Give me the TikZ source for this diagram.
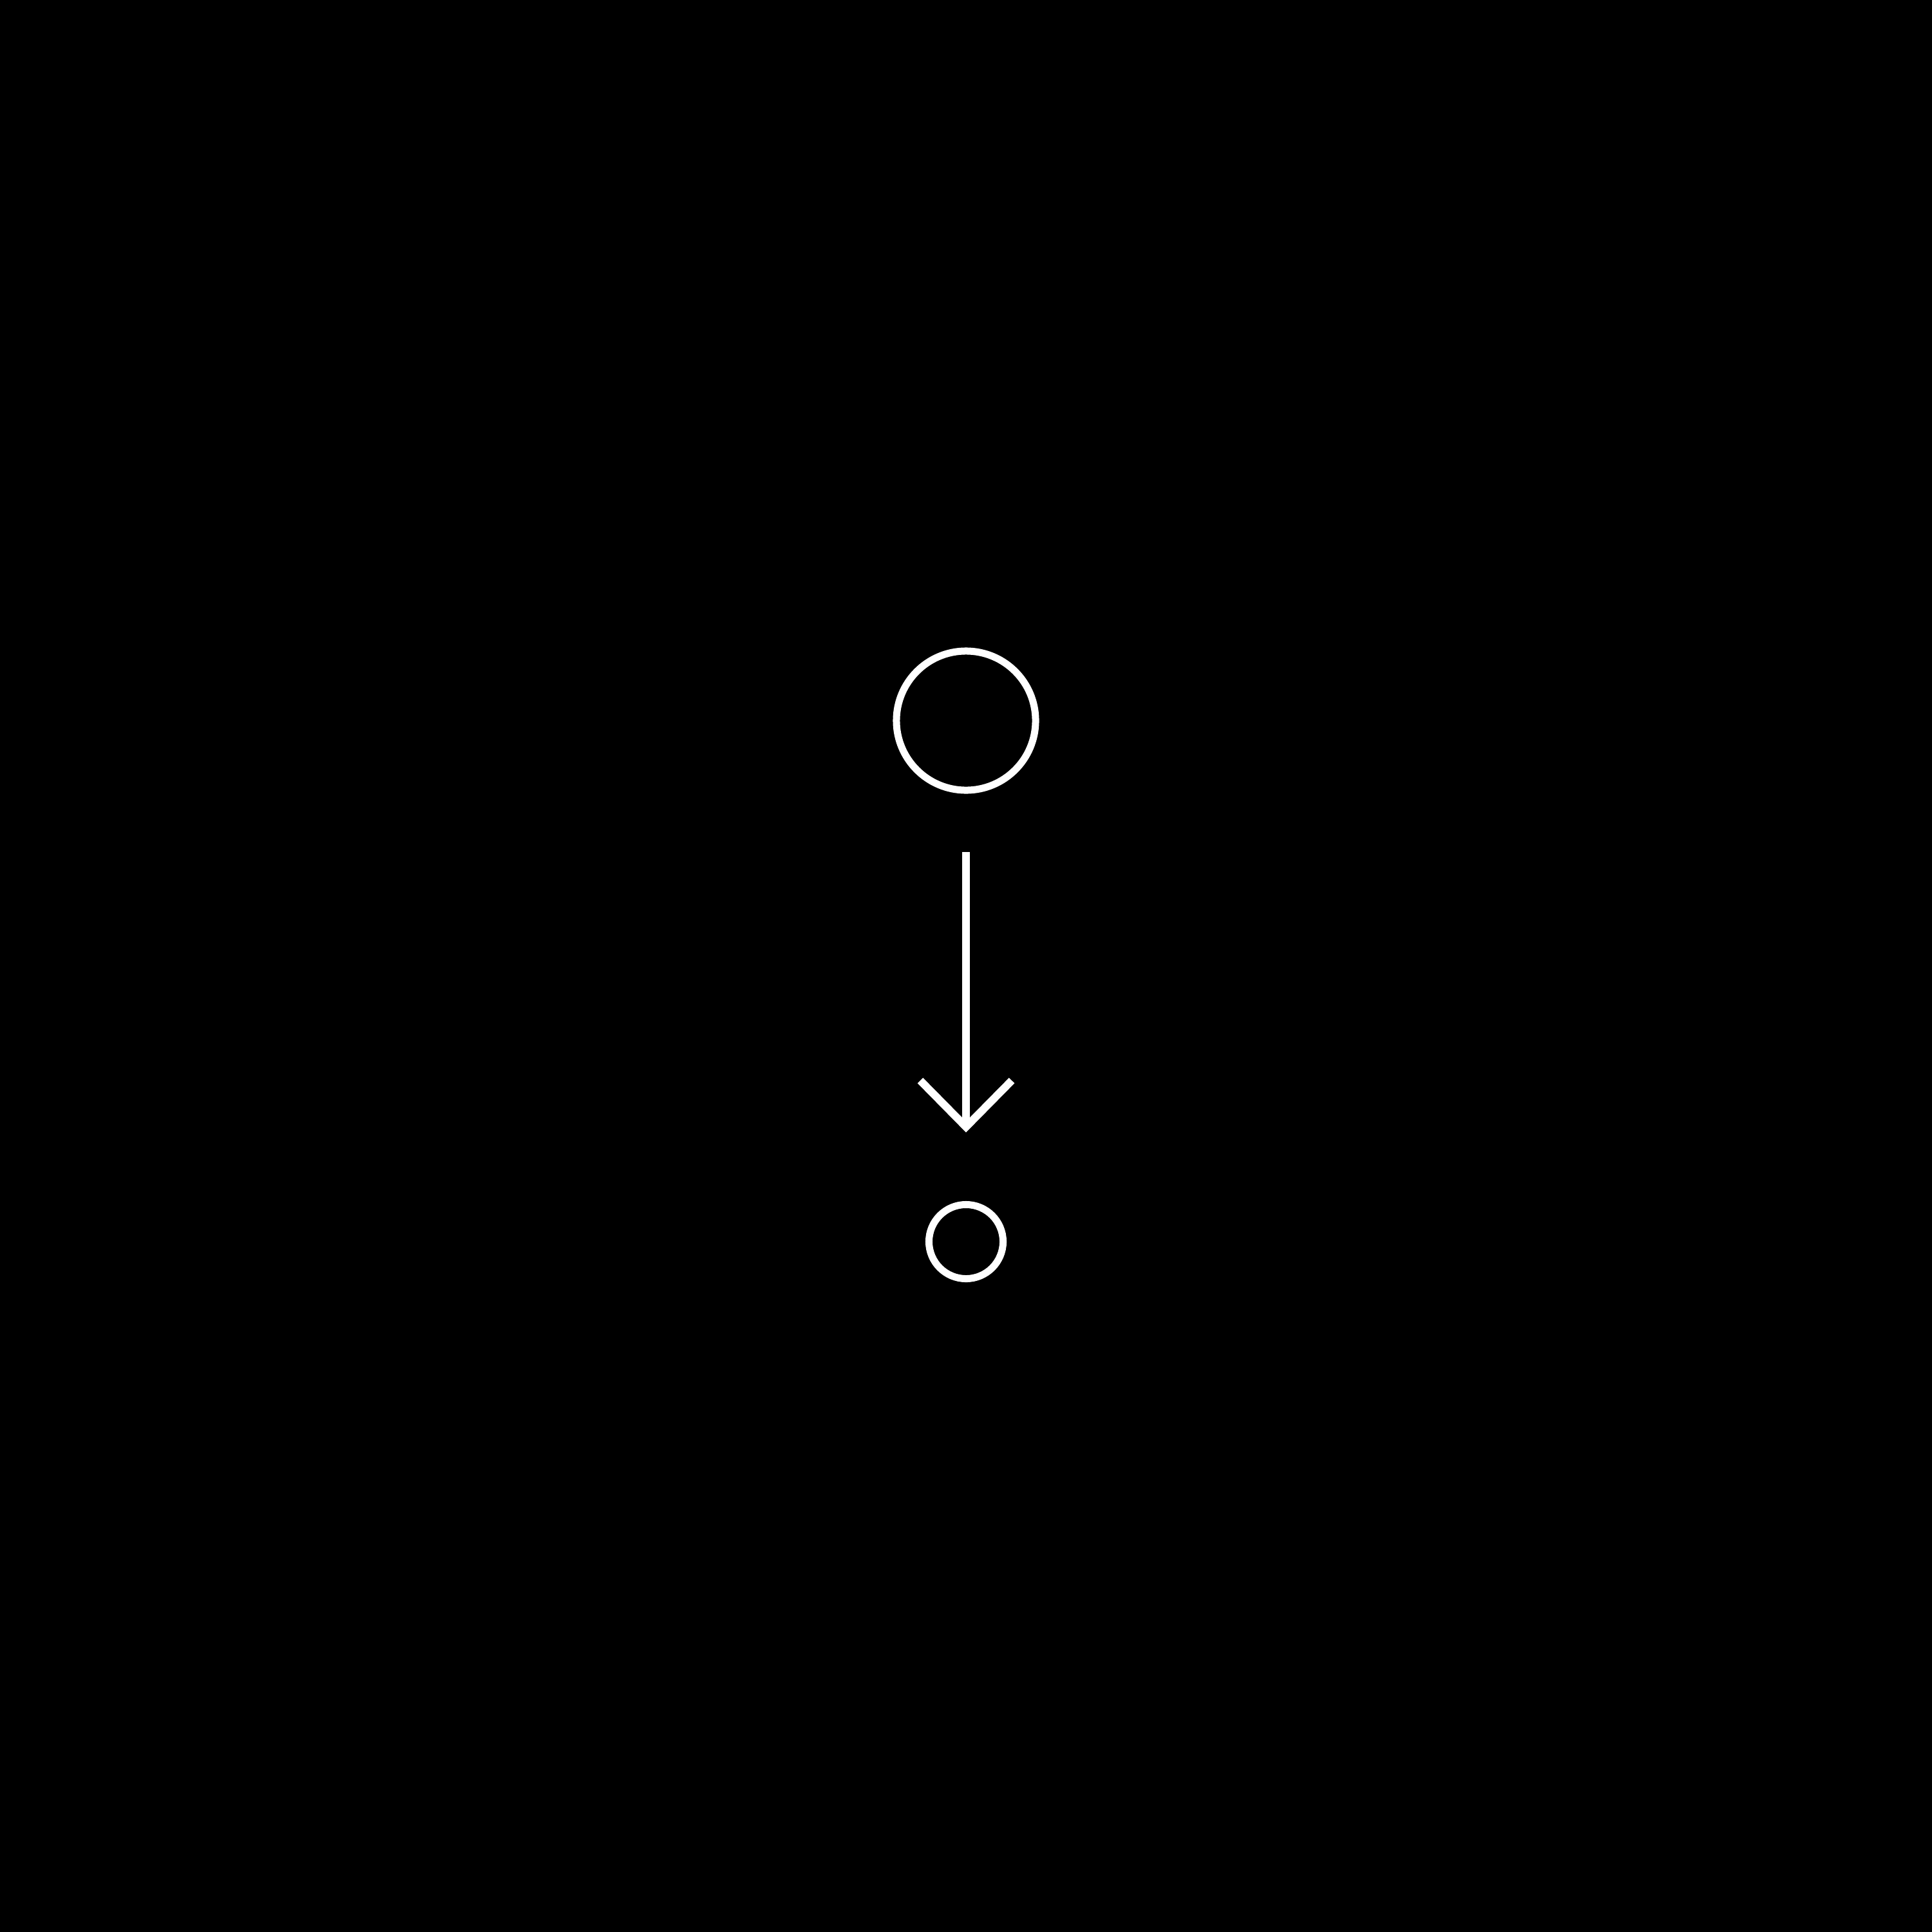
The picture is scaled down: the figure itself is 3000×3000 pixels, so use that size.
\documentclass[tikz,border=0pt]{standalone}
\usetikzlibrary{arrows.meta}
\begin{document}
\begin{tikzpicture}[x=0.01cm,y=-0.01cm,
  ring/.style={circle,draw=white,line width=0.11cm,inner sep=0pt,outer sep=0pt},
  flow/.style={draw=white,line width=0.12cm,-{Straight Barb[length=0.72cm,width=1.42cm,line width=0.12cm]}}]
\fill[black] (0,0) rectangle (3000,3000);
\useasboundingbox (0,0) rectangle (3000,3000);
\node[ring,minimum size=2.16cm] (a) at (1500,1119) {};
\node[ring,minimum size=1.15cm] (b) at (1500,1928) {};
\draw[flow,shorten <=0.96cm,shorten >=1.12cm] (a.south) -- (b.north);
\end{tikzpicture}
\end{document}
